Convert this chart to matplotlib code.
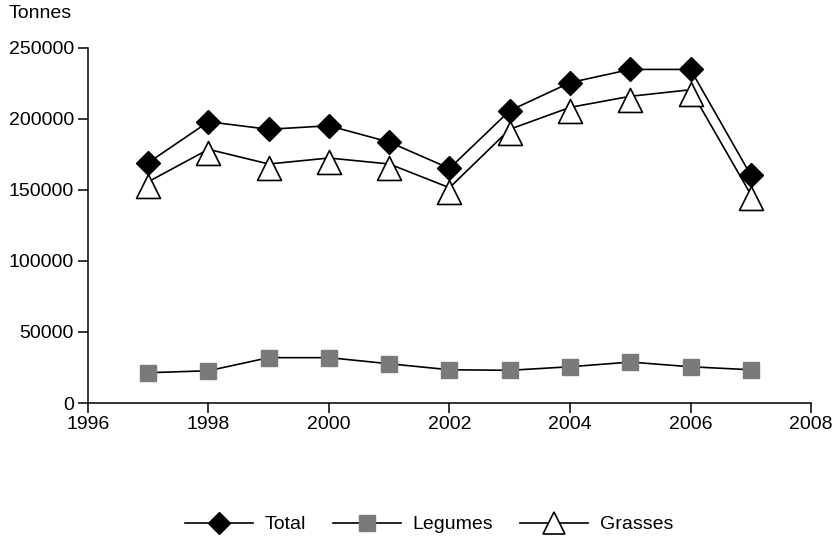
import numpy as np
import matplotlib.pyplot as plt
from matplotlib.path import Path
from matplotlib.lines import Line2D

# values (tonnes)
years = [1997, 1998, 1999, 2000, 2001, 2002, 2003, 2004, 2005, 2006, 2007]
total = [169000, 197800, 192500, 195000, 183500, 165000, 205600, 225300, 234600, 234600, 160300]
legumes = [21300, 22700, 31900, 31900, 27600, 23400, 23000, 25500, 28800, 25500, 23400]
grasses = [155600, 178400, 168100, 172300, 168100, 151400, 192500, 207900, 215700, 220300, 146700]

x_ticks = [1996, 1998, 2000, 2002, 2004, 2006, 2008]
y_ticks = [0, 50000, 100000, 150000, 200000, 250000]

plt.rcParams['font.family'] = ['Liberation Sans', 'DejaVu Sans']
plt.rcParams['font.size'] = 14

# triangle whose anchor sits a third of the way down from the apex
tri = Path([(0, 1), (-1.5, -2), (1.5, -2), (0, 1)],
           [Path.MOVETO, Path.LINETO, Path.LINETO, Path.CLOSEPOLY])

fig = plt.figure(figsize=(8.33, 5.37), dpi=100)
ax = fig.add_axes([0.1056, 0.2495, 0.868, 0.662])

lw = 1.2
ax.plot(years, legumes, color='black', lw=lw, marker='s', markersize=12,
        markerfacecolor='#7a7a7a', markeredgecolor='#7a7a7a', zorder=3)
ax.plot(years, grasses, color='black', lw=lw, marker=tri, markersize=23,
        markerfacecolor='white', markeredgecolor='black', markeredgewidth=1.2, zorder=3)
ax.plot(years, total, color='black', lw=lw, marker='D', markersize=12,
        markerfacecolor='black', markeredgecolor='black', zorder=4)

ax.set_xlim(1996, 2008)
ax.set_ylim(0, 250000)
ax.set_xticks(x_ticks)
ax.set_yticks(y_ticks)
ax.tick_params(direction='out', length=7, width=1.1, pad=3)
ax.tick_params(axis='x', pad=2)
ax.spines['top'].set_visible(False)
ax.spines['right'].set_visible(False)
for s in ['left', 'bottom']:
    ax.spines[s].set_linewidth(1.1)

fig.text(0.01, 0.99, 'Tonnes', ha='left', va='top')

# legend handles with centred markers
leg_handles = [
    Line2D([], [], color='black', lw=lw, marker='D', markersize=11,
           markerfacecolor='black', markeredgecolor='black'),
    Line2D([], [], color='black', lw=lw, marker='s', markersize=12,
           markerfacecolor='#7a7a7a', markeredgecolor='#7a7a7a'),
    Line2D([], [], color='black', lw=lw, marker='^', markersize=16,
           markerfacecolor='white', markeredgecolor='black', markeredgewidth=1.2),
]
fig.legend(leg_handles, ['Total', 'Legumes', 'Grasses'],
           loc='lower center', bbox_to_anchor=(0.515, -0.026), ncol=3, frameon=False,
           handlelength=3.5, columnspacing=1.4, handletextpad=0.6)

fig.savefig('out.png', dpi=100)
